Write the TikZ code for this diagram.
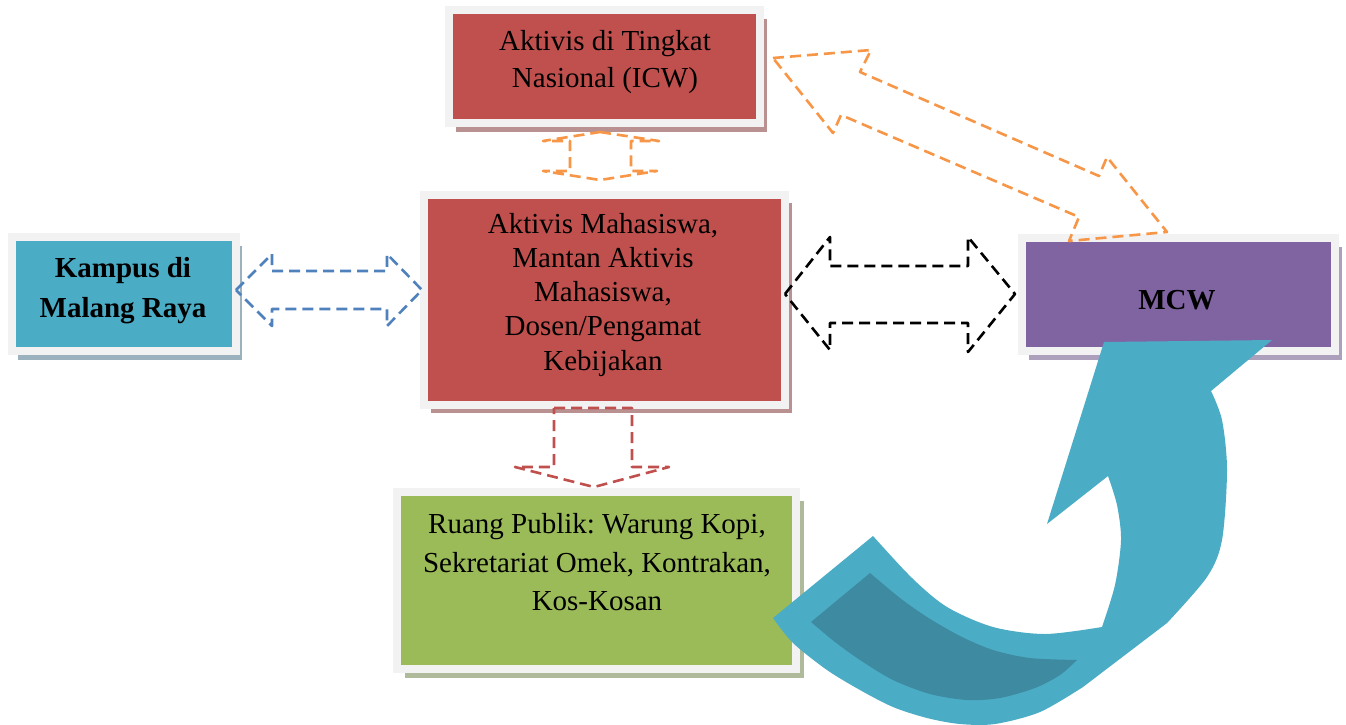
\documentclass[tikz,border=0pt]{standalone}
\usepackage{fontspec}
\setmainfont{Liberation Serif}
\usepackage{tikz}
\usetikzlibrary{shadows}
\frenchspacing

\definecolor{framegray}{HTML}{F2F2F2}
\definecolor{boxred}{HTML}{C0504D}
\definecolor{boxblue}{HTML}{4BACC6}
\definecolor{boxpurple}{HTML}{8064A2}
\definecolor{boxgreen}{HTML}{9BBB59}
\definecolor{redshadow}{HTML}{B99191}
\definecolor{blueshadow}{HTML}{9BB2BE}
\definecolor{purpleshadow}{HTML}{ACA0BC}
\definecolor{greenshadow}{HTML}{AFBA9B}
\definecolor{dashorange}{HTML}{F79646}
\definecolor{dashblue}{HTML}{4F81BD}
\definecolor{dashred}{HTML}{C0504D}
\definecolor{foldcyan}{HTML}{3D8AA1}

\begin{document}
\begin{tikzpicture}[x=1pt,y=-1pt,inner sep=0pt]
   \tikzstyle{panel}=[draw=framegray,line width=8pt]
   \tikzstyle{lbl}=[align=center,anchor=base,text=black]
   \tikzstyle{blockarrow}=[line width=2.6pt,dash pattern=on 11pt off 6pt,line join=round]
   \useasboundingbox (0,0) rectangle (1346,724);
   \fill[white] (0,0) rectangle (1346,724);

   \node[panel,fill=boxred,minimum width=310.5pt,minimum height=113pt,
      drop shadow={shadow xshift=7pt,shadow yshift=-9pt,fill=redshadow,opacity=1}]
      (icw) at (604.25,66.5) {};
   \node[panel,fill=boxred,minimum width=361pt,minimum height=210pt,
      drop shadow={shadow xshift=7pt,shadow yshift=-8pt,fill=redshadow,opacity=1}]
      (aktivis) at (604,299.5) {};
   \node[panel,fill=boxblue,minimum width=224.5pt,minimum height=114pt,
      drop shadow={shadow xshift=6pt,shadow yshift=-9pt,fill=blueshadow,opacity=1}]
      (kampus) at (123.75,294) {};
   \node[panel,fill=boxpurple,minimum width=312.5pt,minimum height=113pt,
      drop shadow={shadow xshift=7pt,shadow yshift=-9pt,fill=purpleshadow,opacity=1}]
      (mcw) at (1178.25,294) {};
   \node[panel,fill=boxgreen,minimum width=398.5pt,minimum height=177pt,
      drop shadow={shadow xshift=8pt,shadow yshift=-9pt,fill=greenshadow,opacity=1}]
      (publik) at (596.25,580.5) {};

   \node[lbl,font=\fontsize{29}{37}\selectfont] (icwtxt) at (605,87)
      {Aktivis di Tingkat\\Nasional (ICW)};
   \node[lbl,font=\fontsize{29}{34.25}\selectfont] (aktivistxt) at (603,370)
      {Aktivis Mahasiswa,\\Mantan Aktivis\\Mahasiswa,\\Dosen/Pengamat\\Kebijakan};
   \node[lbl,font=\fontsize{29}{40}\selectfont\bfseries] (kampustxt) at (123,317)
      {Kampus di\\Malang Raya};
   \node[lbl,font=\fontsize{29}{34}\selectfont\bfseries] (mcwtxt) at (1177,309) {MCW};
   \node[lbl,font=\fontsize{29}{38.5}\selectfont] (publiktxt) at (597,610.5)
      {Ruang Publik: Warung Kopi,\\Sekretariat Omek, Kontrakan,\\Kos-Kosan};

   \draw[blockarrow,dashorange] (600,132) -- (659,141) -- (631,141) -- (631,171) -- (657,171)
      -- (600,180) -- (543,171) -- (570,171) -- (570,141) -- (543,141) -- cycle;
   \draw[blockarrow,dashblue] (236,290) -- (272,254) -- (272,271) -- (387,271) -- (387,254)
      -- (422,290) -- (387,326) -- (387,309) -- (272,309) -- (272,326) -- cycle;
   \draw[blockarrow,black] (785,294) -- (830,237) -- (830,266) -- (968,266) -- (968,237)
      -- (1015,294) -- (968,352) -- (968,323) -- (830,323) -- (830,350) -- cycle;
   \draw[blockarrow,dashred] (554,408) -- (632,408) -- (632,467) -- (669,467) -- (594,487)
      -- (515,467) -- (554,467) -- cycle;
   \draw[blockarrow,dashorange] (773,58) -- (871,50) -- (860,72) -- (1099,176) -- (1107,157)
      -- (1167,232) -- (1069,241) -- (1079,217) -- (841,115) -- (833,133) -- cycle;

   \fill[boxblue] (773,618) -- (873,536)
      -- plot[smooth] coordinates {(873,536) (912,578) (947,607) (993,627) (1045,634) (1102,627)}
      -- plot[smooth] coordinates {(1102,627) (1115,585) (1121,540) (1117,505) (1108,476)}
      -- (1047,524) -- (1104,342) -- (1272,340) -- (1211,391)
      -- plot[smooth] coordinates {(1211,391) (1222,420) (1227,470) (1222,540) (1207,577) (1167,623)}
      -- (1083,687)
      -- plot[smooth] coordinates {(1083,687) (1040,712) (995,724) (960,724) (927,718) (893,707) (860,690) (827,670) (793,643) (773,618)}
      -- cycle;
   \fill[foldcyan] (811,622) -- (870,573)
      -- plot[smooth] coordinates {(870,573) (900,598) (927,617) (960,636) (993,650) (1030,658) (1077,660)}
      -- plot[smooth] coordinates {(1077,660) (1060,675) (1035,688) (1000,698) (967,700) (930,694) (893,680) (860,660) (835,642) (811,622)}
      -- cycle;
\end{tikzpicture}
\end{document}
